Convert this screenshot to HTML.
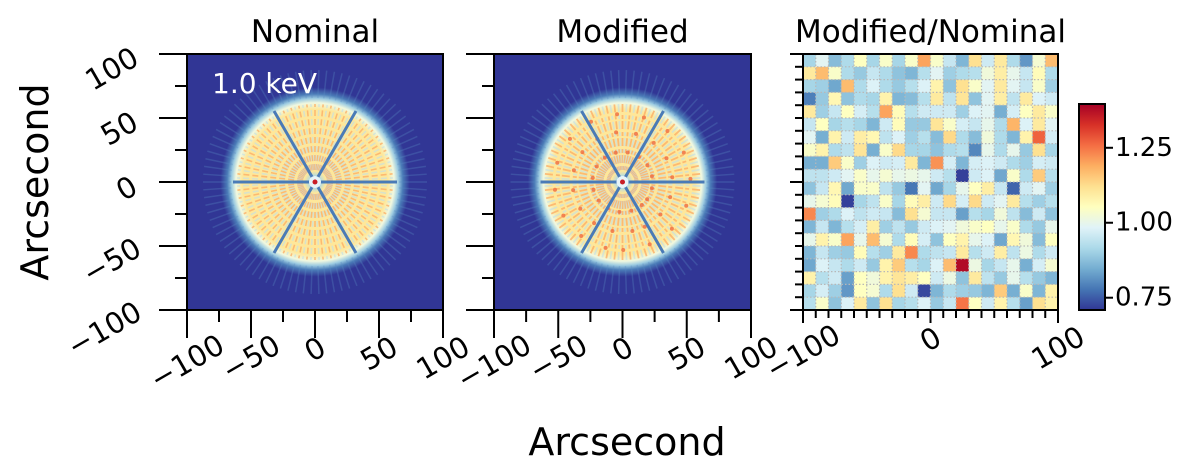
<!DOCTYPE html>
<html><head><meta charset="utf-8"><style>
html,body{margin:0;padding:0;background:#fff;}
svg{display:block;font-family:"DejaVu Sans","Liberation Sans",sans-serif;}
</style></head><body>
<svg id="fig" width="1200" height="469" viewBox="0 0 1200 469" xmlns="http://www.w3.org/2000/svg">
<defs>
<radialGradient id="psfg" gradientUnits="userSpaceOnUse" cx="0" cy="0" r="110">
<stop offset="0" stop-color="#ffffff"/>
<stop offset="0.05" stop-color="#abd9e9"/>
<stop offset="0.1" stop-color="#fee79a"/>
<stop offset="0.66" stop-color="#fee79a"/>
<stop offset="0.72" stop-color="#f0f8e0"/>
<stop offset="0.76" stop-color="#9ccbe1"/>
<stop offset="0.8" stop-color="#4a7bb7"/>
<stop offset="0.86" stop-color="#313695"/>
</radialGradient>
<linearGradient id="cbg" x1="0" y1="1" x2="0" y2="0">
<stop offset="0" stop-color="#313695"/><stop offset="0.1" stop-color="#4575b4"/>
<stop offset="0.2" stop-color="#74add1"/><stop offset="0.3" stop-color="#abd9e9"/>
<stop offset="0.4" stop-color="#e0f3f8"/><stop offset="0.5" stop-color="#ffffbf"/>
<stop offset="0.6" stop-color="#fee090"/><stop offset="0.7" stop-color="#fdae61"/>
<stop offset="0.8" stop-color="#f46d43"/><stop offset="0.9" stop-color="#d73027"/>
<stop offset="1" stop-color="#a50026"/>
</linearGradient>
<clipPath id="c1"><rect x="187" y="54" width="256" height="256"/></clipPath>
<clipPath id="c2"><rect x="494" y="54" width="257" height="256"/></clipPath>
</defs>
<g id="root"></g>
</svg>
<script>
// Heatmap ratio values (Modified/Nominal), 20x20, row 0 = top
const ratioRows = [
[0.91,0.99,0.87,0.92,1.05,0.91,1.04,0.91,1.04,1.2,1.04,0.95,0.86,1.12,0.96,1.1,0.92,0.82,1.03,1.17],
[1.1,1.17,1.04,0.92,0.89,0.95,0.92,0.88,0.86,0.93,0.99,0.9,0.92,0.93,1.02,1.09,1.0,0.95,1.06,0.92],
[0.91,0.9,0.84,1.17,0.92,0.98,0.92,0.89,0.93,0.98,1.08,0.88,1.12,1.04,0.99,1.1,0.99,0.95,1.04,0.9],
[0.79,0.89,1.07,0.88,0.92,0.91,1.08,0.86,0.87,0.93,1.1,0.94,1.11,0.88,0.99,1.09,0.94,1.1,0.98,0.96],
[1.1,0.9,0.95,1.05,0.97,0.93,1.2,1.06,0.93,0.96,0.96,0.96,0.9,0.98,0.99,0.85,0.97,1.05,1.1,1.04],
[0.95,1.05,0.91,0.93,0.91,0.86,0.96,1.06,0.89,0.89,1.11,1.04,0.97,0.95,1.0,0.92,1.18,0.98,1.1,0.99],
[0.99,0.85,1.08,0.96,1.09,1.07,0.94,0.98,0.9,0.93,0.87,1.13,0.92,0.87,1.02,0.92,0.86,1.08,1.27,0.97],
[1.04,1.08,0.92,0.94,1.11,0.85,1.04,1.13,0.91,0.91,0.88,0.92,0.93,0.8,1.0,0.92,1.0,0.89,1.12,0.91],
[0.85,0.85,1.15,1.04,0.9,0.98,0.96,0.97,1.1,0.86,1.22,0.97,0.86,0.97,0.98,0.96,0.92,0.9,0.97,0.96],
[0.94,0.94,0.96,0.99,1.04,1.0,1.03,1.0,1.01,1.0,0.96,0.93,0.72,0.96,0.98,0.84,1.04,0.92,1.15,0.93],
[0.88,0.95,1.07,0.84,1.04,1.04,0.94,0.89,0.78,0.99,0.84,0.91,1.0,1.05,1.09,0.95,0.76,0.96,0.99,0.9],
[1.0,1.03,1.06,0.72,0.91,0.94,1.04,0.91,1.06,1.09,0.96,1.13,0.97,1.13,0.96,0.99,1.1,0.93,0.9,0.93],
[1.23,0.9,0.92,0.98,0.94,0.96,0.95,0.87,1.12,1.03,0.95,0.95,0.83,0.93,0.91,1.02,0.94,0.87,0.96,0.88],
[0.86,0.95,0.86,0.93,0.97,1.09,0.9,0.94,0.89,0.96,0.98,0.99,1.02,1.04,1.05,1.0,1.04,0.92,0.89,1.0],
[1.0,1.08,1.04,1.2,1.0,1.17,1.03,0.92,1.06,0.97,0.88,1.05,1.08,1.0,0.98,0.84,1.07,1.02,0.87,1.05],
[0.86,0.95,0.9,0.89,1.06,0.93,0.9,1.1,1.23,0.92,0.94,0.95,1.1,0.93,0.96,1.09,0.94,1.01,0.92,0.96],
[0.84,0.98,0.95,0.92,0.96,0.89,1.08,1.15,0.93,0.91,0.98,1.17,1.38,1.01,0.91,0.95,1.0,0.85,0.97,1.03],
[1.08,0.93,0.96,0.83,1.05,1.02,1.08,1.11,1.09,1.05,0.96,1.01,0.88,1.1,0.94,0.89,1.0,0.93,0.89,0.86],
[0.91,0.97,0.9,0.82,1.05,1.03,0.92,1.12,0.96,0.73,0.86,0.92,0.9,0.89,0.86,1.15,0.85,1.04,0.86,1.08],
[0.93,1.04,0.88,0.98,1.1,0.88,1.12,0.91,0.93,0.98,0.89,0.95,1.25,1.05,0.96,1.08,0.93,0.83,1.12,1.08]
];
const axisTicks = [-100,-50,0,50,100];
const ratioTicks = [-100,0,100];
const cbarTicks = [0.75,1.00,1.25];
const cbarLabels = ["0.75","1.00","1.25"];
const panelTitles = ["Nominal","Modified","Modified/Nominal"];

const NS="http://www.w3.org/2000/svg";
const root=document.getElementById('root');
function mk(tag,attrs,parent,text){const e=document.createElementNS(NS,tag);for(const k in attrs)e.setAttribute(k,attrs[k]);if(text!==undefined)e.textContent=text;(parent||root).appendChild(e);return e;}
const VMIN=0.709,VMAX=1.396;
const cmap=["#313695","#4575b4","#74add1","#abd9e9","#e0f3f8","#ffffbf","#fee090","#fdae61","#f46d43","#d73027","#a50026"];
function hex(h){return [1,3,5].map(i=>parseInt(h.substr(i,2),16));}
function color(v){let t=(v-VMIN)/(VMAX-VMIN);t=Math.max(0,Math.min(1,t));const p=t*10,i=Math.min(9,Math.floor(p)),f=p-i;const a=hex(cmap[i]),b=hex(cmap[i+1]);return 'rgb('+a.map((x,k)=>Math.round(x+(b[k]-x)*f)).join(',')+')';}

const panels=[{x:187,w:256},{x:494,w:257},{x:803,w:255}];
const TOP=54,H=256;
const TF=29;
function sx(p,v){return p.x+(v+100)/200*p.w;}
function sy(v){return TOP+(100-v)/200*H;}

panels.forEach((p,i)=>{const t=mk('text',{x:p.x+p.w/2,y:42,'font-size':31,'text-anchor':'middle',fill:'#000'},root,panelTitles[i]);

});

function drawPSF(p,idx){
 const g=mk('g',{'clip-path':'url(#c'+(idx+1)+')'});
 
 
 mk('rect',{x:p.x,y:TOP,width:p.w,height:H,fill:'#313695'},g);
 const cx=p.x+p.w/2,cy=TOP+H/2;
 const c=mk('g',{transform:'translate('+cx+','+cy+')'},g);
 mk('circle',{cx:0,cy:0,r:110,fill:'url(#psfg)'},c);
 for(let a=0;a<360;a+=4){const r=a*Math.PI/180;mk('line',{x1:84*Math.cos(r),y1:84*Math.sin(r),x2:112*Math.cos(r),y2:112*Math.sin(r),stroke:'#5a8cc4','stroke-width':1.5,opacity:0.3},c);}
 for(let a=0;a<360;a+=3){const r=a*Math.PI/180;
  mk('line',{x1:12*Math.cos(r),y1:12*Math.sin(r),x2:78*Math.cos(r),y2:78*Math.sin(r),stroke:(a%6===0)?'#fdb066':'#bfe0ec','stroke-width':idx===0?1.6:1.8,opacity:(a%6===0)?0.8:0.6,'stroke-dasharray':idx===0?'6 3':'4 3 8 2'},c);}
 if(idx===1){for(let a=7;a<360;a+=23){const r=a*Math.PI/180;for(const rr of [30,50,68]){mk('circle',{cx:rr*Math.cos(r+rr/40),cy:rr*Math.sin(r+rr/40),r:2,fill:'#ef6a3e',opacity:0.8},c);}}}
 for(const ang of [0,60,120]){const r=ang*Math.PI/180;mk('line',{x1:-82*Math.cos(r),y1:-82*Math.sin(r),x2:82*Math.cos(r),y2:82*Math.sin(r),stroke:'#4a7bb7','stroke-width':3},c);}
 mk('circle',{cx:0,cy:0,r:6,fill:'#e8f4f8'},c);
 mk('circle',{cx:0,cy:0,r:2.5,fill:'#c81d25'},c);
}
drawPSF(panels[0],0);drawPSF(panels[1],1);
const kev=mk('text',{x:212,y:93,'font-size':28,fill:'#fff'},root,'1.0 keV');



const p3=panels[2];
const hm=mk('g',{});


const nR=ratioRows.length,nC=ratioRows[0].length,cw=p3.w/nC,ch=H/nR;
ratioRows.forEach((row,r)=>row.forEach((v,c)=>{const cell=mk('rect',{x:p3.x+c*cw,y:TOP+r*ch,width:cw+0.3,height:ch+0.3,fill:color(v)},hm);

}));
for(let i=1;i<nC;i++){mk('line',{x1:p3.x+i*cw,y1:TOP,x2:p3.x+i*cw,y2:TOP+H,stroke:'#b8b8b8','stroke-width':1.2,'stroke-dasharray':'1.5 2'},hm);}
for(let i=1;i<nR;i++){mk('line',{x1:p3.x,y1:TOP+i*ch,x2:p3.x+p3.w,y2:TOP+i*ch,stroke:'#b8b8b8','stroke-width':1.2,'stroke-dasharray':'1.5 2'},hm);}

panels.forEach((p,i)=>{
 const f=mk('rect',{x:p.x,y:TOP,width:p.w,height:H,fill:'none',stroke:'#000','stroke-width':2});
 
 
 if(i<2){
  for(let v=-100;v<=100;v+=25){const maj=v%50===0,L=maj?28:12;
   mk('line',{x1:sx(p,v),y1:TOP+H,x2:sx(p,v),y2:TOP+H+L,stroke:'#000','stroke-width':2});
   mk('line',{x1:p.x,y1:sy(v),x2:p.x-L,y2:sy(v),stroke:'#000','stroke-width':2});}
  axisTicks.forEach(v=>{const s=(v<0?'\u2212':'')+Math.abs(v);const w=s.length*17;
   const ty=345+w/4;
   const t=mk('text',{x:sx(p,v),y:ty,'font-size':TF,'text-anchor':'middle','dominant-baseline':'central',transform:'rotate(-30 '+sx(p,v)+' '+ty+')'},root,s);
   
   
   if(i===0){const cx=150-0.87*w/2-16,cy=sy(v)+w/4+2;
    const u=mk('text',{x:cx,y:cy,'font-size':TF,'text-anchor':'middle','dominant-baseline':'central',transform:'rotate(-30 '+cx+' '+cy+')'},root,s);
    
    }
  });
 } else {
  for(let k=0;k<=nC;k++){const maj=(k%10===0),L=maj?13:8;const x=p.x+k*cw,y=TOP+k*ch;
   mk('line',{x1:x,y1:TOP+H,x2:x,y2:TOP+H+L,stroke:'#000','stroke-width':2});
   mk('line',{x1:p.x,y1:y,x2:p.x-L,y2:y,stroke:'#000','stroke-width':2});}
  ratioTicks.forEach(v=>{const s=(v<0?'\u2212':'')+Math.abs(v);const w=s.length*17;
   const ty=335+w/4;
   const t=mk('text',{x:sx(p,v),y:ty,'font-size':TF,'text-anchor':'middle','dominant-baseline':'central',transform:'rotate(-30 '+sx(p,v)+' '+ty+')'},root,s);
   
   });
 }
});

const cb={x:1079,y:104,w:26,h:206};
const cbr=mk('rect',{x:cb.x,y:cb.y,width:cb.w,height:cb.h,fill:'url(#cbg)',stroke:'#000','stroke-width':2});


function cy(v){return cb.y+cb.h-(v-VMIN)/(VMAX-VMIN)*cb.h;}
cbarTicks.forEach((v,i)=>{mk('line',{x1:cb.x+cb.w,y1:cy(v),x2:cb.x+cb.w+8,y2:cy(v),stroke:'#000','stroke-width':2});
 const t=mk('text',{x:cb.x+cb.w+10,y:cy(v),'font-size':26,'dominant-baseline':'central'},root,cbarLabels[i]);
 
 });

const yl=mk('text',{x:0,y:0,'font-size':38,'text-anchor':'middle',transform:'translate(48 182) rotate(-90)'},root,'Arcsecond');


const xl=mk('text',{x:627,y:455,'font-size':38,'text-anchor':'middle'},root,'Arcsecond');


</script>
</body></html>
